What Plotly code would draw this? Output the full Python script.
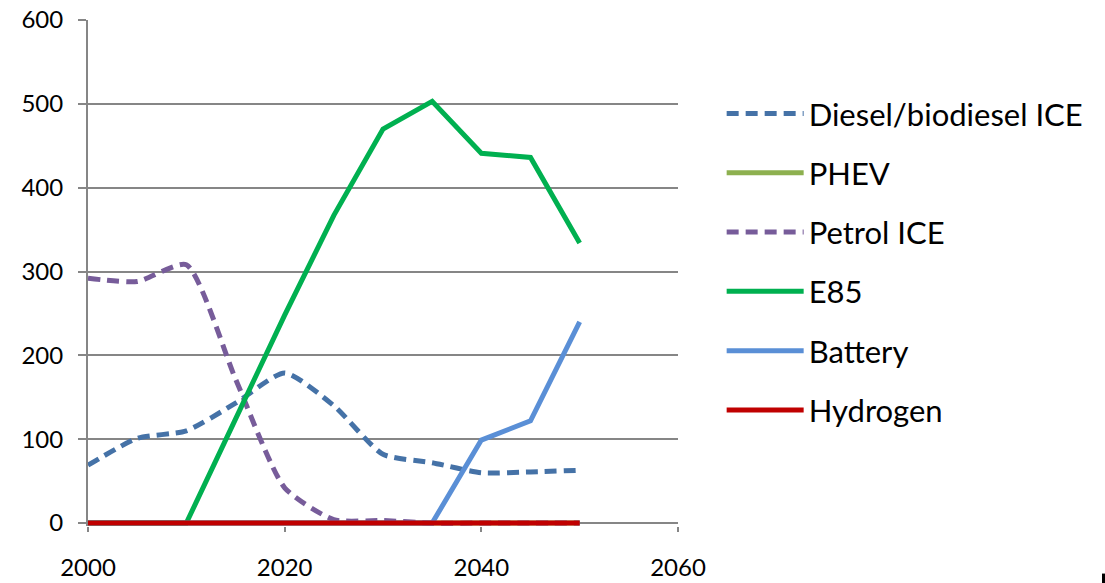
import plotly.graph_objects as go

# Years on the horizontal axis
years = [2000, 2005, 2010, 2015, 2020, 2025, 2030, 2035, 2040, 2045, 2050]

# Series values
diesel = [69, 101, 110, 143, 179, 140, 82, 72, 60, 61, 63]
phev = [0, 0, 0, 0, 0, 0, 0, 0, 0, 0, 0]
petrol = [292, 288, 308, 172, 42, 4, 3, 0, 0, 0, 0]
e85 = [0, 0, 0, 124, 248, 367, 470, 503, 441, 436, 334]
battery = [0, 0, 0, 0, 0, 0, 0, 0, 99, 122, 240]
hydrogen = [0, 0, 0, 0, 0, 0, 0, 0, 0, 0, 0]

y_ticks = [0, 100, 200, 300, 400, 500, 600]
x_ticks = [2000, 2020, 2040, 2060]

FONT = "Lato"

series = [
    ("Diesel/biodiesel ICE", diesel, "#4572A7", "12px,7px", "spline"),
    ("PHEV", phev, "#8DB04F", "solid", "linear"),
    ("Petrol ICE", petrol, "#775C9A", "12px,7px", "spline"),
    ("E85", e85, "#00B050", "solid", "linear"),
    ("Battery", battery, "#5A8FD6", "solid", "linear"),
    ("Hydrogen", hydrogen, "#C00000", "solid", "linear"),
]

fig = go.Figure()
for i, (name, vals, color, dash, shape) in enumerate(series):
    fig.add_trace(go.Scatter(
        x=years, y=vals, name=name, mode="lines",
        line=dict(color=color, width=5, dash=dash, shape=shape, smoothing=0.6),
        legendgroup=f"g{i}",
    ))

# small headroom below zero so the line on the baseline keeps its full width
Y_MIN = -3.5

fig.update_layout(
    width=1105, height=583,
    margin=dict(l=88, r=427, t=20, b=57, autoexpand=False),
    paper_bgcolor="white", plot_bgcolor="white",
    font=dict(family=FONT, size=24, color="black"),
    showlegend=True,
    legend=dict(
        x=1.074, y=0.868, xanchor="left", yanchor="top",
        font=dict(family=FONT, size=31, color="black"),
        tracegroupgap=16, itemwidth=77, traceorder="grouped",
        bgcolor="rgba(0,0,0,0)",
    ),
    xaxis=dict(
        range=[2000, 2060], tickvals=x_ticks, ticktext=[str(v) for v in x_ticks],
        showgrid=False, zeroline=False, automargin=False,
        showline=False,
        ticks="outside", ticklen=5, tickwidth=2, tickcolor="#868686",
        ticklabelstandoff=15,
        tickfont=dict(family=FONT, size=24),
    ),
    yaxis=dict(
        range=[Y_MIN, 600], tickvals=y_ticks, automargin=False,
        showgrid=True, gridcolor="#868686", gridwidth=2, zeroline=False,
        showline=True, linecolor="#868686", linewidth=2,
        ticks="outside", ticklen=8, tickwidth=2, tickcolor="#868686",
        ticklabelstandoff=10,
        tickfont=dict(family=FONT, size=24),
    ),
    shapes=[
        dict(type="rect", xref="paper", yref="paper",
             x0=1.7186, x1=1.7237, y0=-0.113, y1=-0.094,
             fillcolor="black", line=dict(width=0)),
    ],
)

fig.write_html("out.html")
